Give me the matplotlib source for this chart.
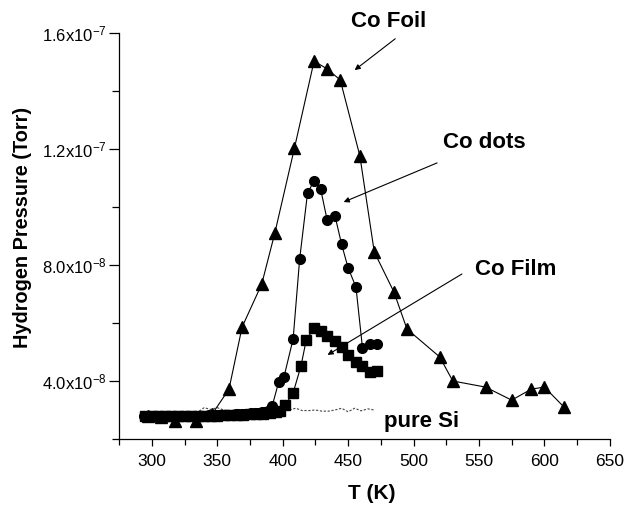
import matplotlib
matplotlib.use("Agg")
import matplotlib.pyplot as plt
from matplotlib.ticker import FuncFormatter, FixedLocator, MultipleLocator

plt.rcParams['font.family'] = ['Liberation Sans', 'DejaVu Sans']
plt.rcParams['mathtext.default'] = 'regular'

SCALE = 1e-8  # values below are in units of 1e-8 Torr

# Co Foil (triangles)
foil_T = [297, 307, 318, 334, 346, 359, 369, 384, 394, 409, 424, 434, 444,
          459, 470, 485, 495, 520, 530, 555, 575, 590, 600, 615]
foil_P = [2.80, 2.75, 2.62, 2.62, 2.85, 3.72, 5.86, 7.34, 9.10, 12.03, 15.03,
          14.76, 14.38, 11.76, 8.45, 7.07, 5.79, 4.83, 4.00, 3.79, 3.34, 3.72,
          3.79, 3.10]

# Co dots (circles)
dots_T = [294, 296, 299, 301, 304, 306, 309, 311, 314, 316,
          319, 321, 324, 326, 329, 331, 334, 336, 339, 341,
          344, 346, 349, 351, 354, 356, 359, 361, 364, 366,
          369, 371, 374, 376, 379, 381, 384, 386, 389,
          392, 397, 401, 408, 413, 419, 424, 429, 434, 440,
          445, 450, 456, 461, 467, 472]
dots_P = [2.80, 2.79, 2.80, 2.78, 2.79, 2.80, 2.78, 2.79, 2.80, 2.78,
          2.79, 2.80, 2.79, 2.78, 2.80, 2.79, 2.81, 2.80, 2.80, 2.81,
          2.82, 2.81, 2.82, 2.83, 2.82, 2.83, 2.84, 2.83, 2.85, 2.85,
          2.86, 2.86, 2.87, 2.88, 2.89, 2.90, 2.92, 2.94, 2.98,
          3.14, 3.97, 4.14, 5.45, 8.21, 10.48, 10.90, 10.62, 9.55, 9.69,
          8.72, 7.90, 7.24, 5.14, 5.28, 5.28]

# Co Film (squares)
film_T = [295, 300, 305, 310, 315, 320, 325, 330, 335, 340,
          345, 350, 355, 360, 365, 370, 375, 380, 385, 390,
          395, 398, 402, 408, 414, 418, 424, 429, 434, 440,
          445, 450, 456, 461, 467, 472]
film_P = [2.80, 2.79, 2.80, 2.79, 2.78, 2.79, 2.80, 2.79, 2.80, 2.80,
          2.81, 2.80, 2.82, 2.82, 2.83, 2.84, 2.85, 2.86, 2.87, 2.89,
          2.92, 2.98, 3.17, 3.59, 4.52, 5.41, 5.83, 5.72, 5.55, 5.38,
          5.17, 4.90, 4.66, 4.52, 4.31, 4.34]

# pure Si (dotted trace)
si_T = [295, 305, 315, 325, 335, 340, 345, 350, 355, 360, 370, 380, 390, 400,
        405, 410, 415, 420, 425, 430, 435, 440, 445, 450, 455, 460, 465, 470]
si_P = [2.85, 2.85, 2.86, 2.87, 2.92, 3.08, 3.02, 3.08, 3.00, 2.95, 2.95, 2.97,
        3.00, 3.10, 3.00, 3.06, 2.98, 2.98, 3.00, 2.96, 2.96, 3.00, 3.06, 2.94,
        3.06, 2.97, 3.04, 3.00]


def sc(vals):
    return [v * SCALE for v in vals]


def sciFmt(v, pos):
    mant, exp = ("%.1e" % v).split("e")
    return "%sx10$^{%d}$" % (mant, int(exp))


fig = plt.figure(figsize=(6.3, 5.05), dpi=100)
ax = fig.add_axes([0.189, 0.1307, 0.779, 0.804])

ax.plot(si_T, sc(si_P), color='#444444', lw=0.8, ls=(0, (2, 1.5)), zorder=1)
ax.plot(film_T, sc(film_P), color='k', lw=0.8, marker='s', ms=6.5, zorder=2)
ax.plot(dots_T, sc(dots_P), color='k', lw=0.8, marker='o', ms=7, zorder=3)
ax.plot(foil_T, sc(foil_P), color='k', lw=0.8, marker='^', ms=9, zorder=4)

ax.set_xlim(275, 650)
ax.set_ylim(2e-8, 1.6e-7)
ax.xaxis.set_major_locator(MultipleLocator(50))
ax.xaxis.set_minor_locator(MultipleLocator(25))
ax.yaxis.set_major_locator(FixedLocator([4e-8, 8e-8, 1.2e-7, 1.6e-7]))
ax.yaxis.set_minor_locator(FixedLocator([2e-8, 6e-8, 1e-7, 1.4e-7]))
ax.yaxis.set_major_formatter(FuncFormatter(sciFmt))

for s in ['top', 'right']:
    ax.spines[s].set_visible(False)
for s in ['left', 'bottom']:
    ax.spines[s].set_linewidth(0.9)

ax.tick_params(axis='x', which='major', direction='out', length=5, width=0.9, labelsize=12.5, pad=6)
ax.tick_params(axis='x', which='minor', direction='out', length=4, width=0.9)
ax.tick_params(axis='y', which='major', direction='out', length=7, width=0.9, labelsize=12, pad=2)
ax.tick_params(axis='y', which='minor', direction='out', length=5, width=0.9)

ax.set_xlabel("T (K)", fontsize=15, fontweight='bold')
ax.xaxis.set_label_coords(0.515, -0.11)
ax.set_ylabel("Hydrogen Pressure (Torr)", fontsize=14.3, fontweight='bold')
ax.yaxis.set_label_coords(-0.177, 0.522)

arrow = dict(arrowstyle='-|>', lw=0.8, color='k', mutation_scale=8, shrinkA=0, shrinkB=0)

ax.annotate("", xy=(455, 14.72e-8), xytext=(486, 15.8e-8), arrowprops=arrow)
ax.text(481, 16.41e-8, "Co Foil", fontsize=16, fontweight='bold', ha='center', va='center', clip_on=False)

ax.annotate("", xy=(446.6, 10.17e-8), xytext=(518, 11.52e-8), arrowprops=arrow)
ax.text(554, 12.21e-8, "Co dots", fontsize=16, fontweight='bold', ha='center', va='center')

ax.annotate("", xy=(434.3, 4.9e-8), xytext=(537, 7.69e-8), arrowprops=arrow)
ax.text(578, 7.83e-8, "Co Film", fontsize=16, fontweight='bold', ha='center', va='center')

ax.text(506, 2.62e-8, "pure Si", fontsize=16, fontweight='bold', ha='center', va='center')

fig.savefig("out.png", dpi=100)
